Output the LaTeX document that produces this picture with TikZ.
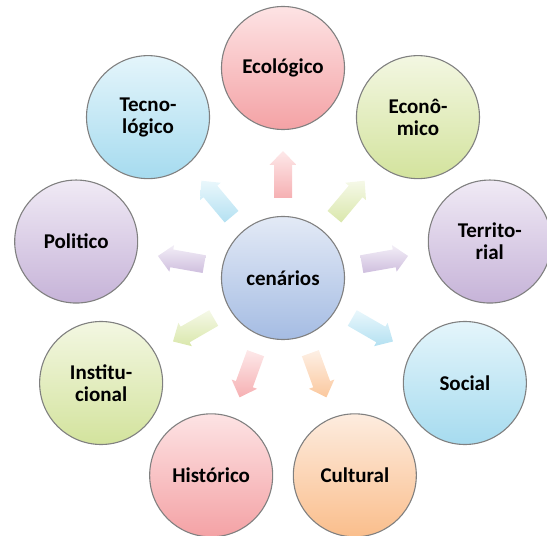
\documentclass[tikz,border=0pt]{standalone}
\usepackage{fontspec}
\setmainfont{Carlito}
\usetikzlibrary{calc}
\definecolor{pkT}{HTML}{FDE3E4}\definecolor{pkB}{HTML}{F4A2A5}
\definecolor{grT}{HTML}{F3F7E2}\definecolor{grB}{HTML}{D3E39D}
\definecolor{lvT}{HTML}{F0EAF5}\definecolor{lvB}{HTML}{C6B3D8}
\definecolor{cyT}{HTML}{E4F5FB}\definecolor{cyB}{HTML}{A6DBEF}
\definecolor{pcT}{HTML}{FDECDF}\definecolor{pcB}{HTML}{FABE8C}
\definecolor{blT}{HTML}{E3EAF6}\definecolor{blB}{HTML}{A5BCE3}
\begin{document}
\begin{tikzpicture}[x=1pt,y=1pt,
  bub/.style={circle, minimum size=123pt, inner sep=0pt, draw=black!50, line width=1.1pt,
    font=\bfseries\fontsize{21}{22}\selectfont, align=center, text=black},
  pk/.style={top color=pkT, bottom color=pkB},
  gr/.style={top color=grT, bottom color=grB},
  lv/.style={top color=lvT, bottom color=lvB},
  cy/.style={top color=cyT, bottom color=cyB},
  pc/.style={top color=pcT, bottom color=pcB},
  bl/.style={top color=blT, bottom color=blB},
  pka/.style={top color=pkT!80!white, bottom color=pkB!85!white},
  gra/.style={top color=grT!80!white, bottom color=grB!85!white},
  lva/.style={top color=lvT!80!white, bottom color=lvB!85!white},
  cya/.style={top color=cyT!80!white, bottom color=cyB!85!white},
  pca/.style={top color=pcT!80!white, bottom color=pcB!85!white}]
\useasboundingbox (0,0) rectangle (547,536);
\node[bub, bl] (c) at (283,258) {cenários};
\foreach \n/\a/\cs/\as/\txt in {
  eco/90/pk/pka/{Ecológico},
  econ/50/gr/gra/{Econô-\\mico},
  terr/10/lv/lva/{Territo-\\rial},
  soc/-30/cy/cya/{Social},
  cult/-70/pc/pca/{Cultural},
  hist/-110/pk/pka/{Histórico},
  inst/-150/gr/gra/{Institu-\\cional},
  pol/170/lv/lva/{Politico},
  tec/130/cy/cya/{Tecno-\\lógico}}{
  \node[bub, \cs] (\n) at ($(c)+(\a:210)$) {\txt};
  \path[\as] ($(c)+(\a:80)+(\a+90:9)$) -- ($(c)+(\a:113)+(\a+90:9)$)
    -- ($(c)+(\a:113)+(\a+90:13.5)$) -- ($(c)+(\a:127)$)
    -- ($(c)+(\a:113)+(\a-90:13.5)$) -- ($(c)+(\a:113)+(\a-90:9)$)
    -- ($(c)+(\a:80)+(\a-90:9)$) -- cycle;
}
\end{tikzpicture}
\end{document}
